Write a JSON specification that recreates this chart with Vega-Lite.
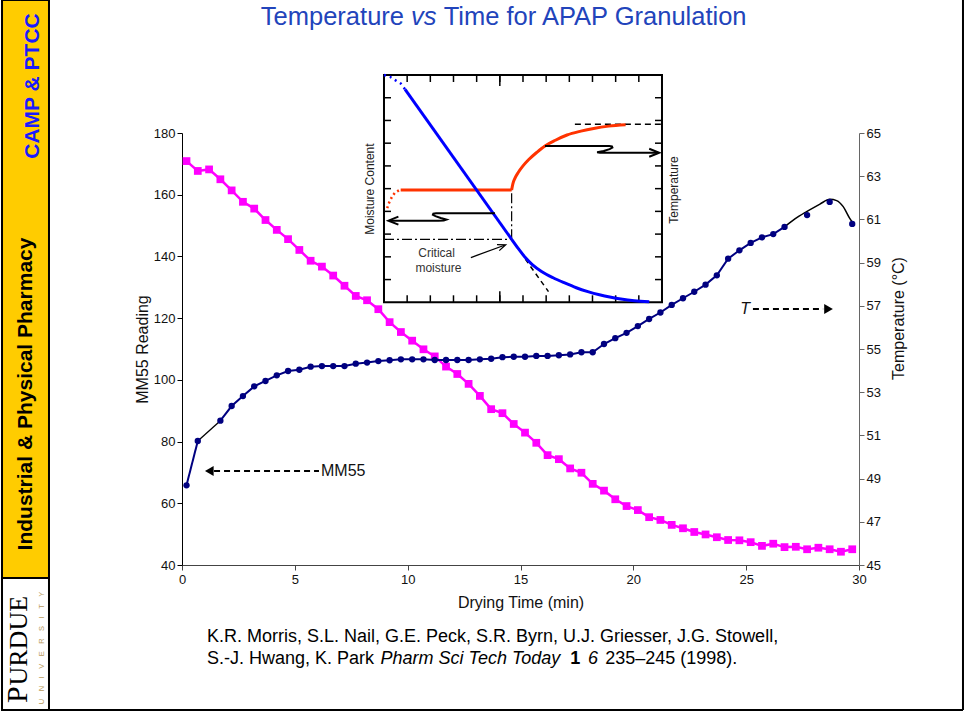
{
"$schema": "https://vega.github.io/schema/vega-lite/v6.json",
"width": 677,
"height": 432,
"autosize": {"type": "none"},
"padding": {"left": 182, "top": 133, "right": 106, "bottom": 154},
"background": "white",
"config": {
  "view": {"stroke": null},
  "font": "Liberation Sans",
  "axis": {"grid": false, "labelFont": "Liberation Sans", "titleFont": "Liberation Sans", "labelFontSize": 13, "titleFontSize": 16, "titleFontWeight": "normal", "labelColor": "#111111", "titleColor": "#111111", "tickColor": "#222222", "domainColor": "#222222", "tickSize": 5, "labelPadding": 2},
  "text": {"font": "Liberation Sans"}
},
"datasets": {
  "drying": [
    {"t":0.2,"mm55":170.9,"temp":48.69},{"t":0.7,"mm55":167.7,"temp":50.74},{"t":1.2,"mm55":168.2,"temp":null},
    {"t":1.7,"mm55":165.0,"temp":51.68},{"t":2.2,"mm55":161.4,"temp":52.36},{"t":2.7,"mm55":157.7,"temp":52.82},
    {"t":3.2,"mm55":155.5,"temp":53.27},{"t":3.7,"mm55":151.8,"temp":53.52},{"t":4.2,"mm55":148.6,"temp":53.78},
    {"t":4.7,"mm55":145.6,"temp":53.98},{"t":5.2,"mm55":142.1,"temp":54.04},{"t":5.7,"mm55":138.6,"temp":54.18},
    {"t":6.2,"mm55":136.7,"temp":54.21},{"t":6.7,"mm55":133.8,"temp":54.21},{"t":7.2,"mm55":130.5,"temp":54.21},
    {"t":7.7,"mm55":127.2,"temp":54.32},{"t":8.2,"mm55":125.8,"temp":54.37},{"t":8.7,"mm55":122.9,"temp":54.44},
    {"t":9.2,"mm55":118.7,"temp":54.48},{"t":9.7,"mm55":115.5,"temp":54.52},{"t":10.2,"mm55":112.7,"temp":54.52},
    {"t":10.7,"mm55":109.9,"temp":54.52},{"t":11.2,"mm55":107.6,"temp":54.49},{"t":11.7,"mm55":104.3,"temp":54.49},
    {"t":12.2,"mm55":101.9,"temp":54.49},{"t":12.7,"mm55":98.7,"temp":54.49},{"t":13.2,"mm55":94.8,"temp":54.52},
    {"t":13.7,"mm55":90.5,"temp":54.55},{"t":14.2,"mm55":89.2,"temp":54.62},{"t":14.7,"mm55":85.7,"temp":54.64},
    {"t":15.2,"mm55":82.9,"temp":54.64},{"t":15.7,"mm55":79.6,"temp":54.68},{"t":16.2,"mm55":75.6,"temp":54.68},
    {"t":16.7,"mm55":74.3,"temp":54.71},{"t":17.2,"mm55":71.3,"temp":54.75},{"t":17.7,"mm55":69.9,"temp":54.85},
    {"t":18.2,"mm55":66.3,"temp":54.85},{"t":18.7,"mm55":64.1,"temp":55.23},{"t":19.2,"mm55":61.3,"temp":55.5},
    {"t":19.7,"mm55":59.1,"temp":55.75},{"t":20.2,"mm55":57.8,"temp":56.06},{"t":20.7,"mm55":55.5,"temp":56.39},
    {"t":21.2,"mm55":54.6,"temp":56.69},{"t":21.7,"mm55":53.0,"temp":57.04},{"t":22.2,"mm55":51.9,"temp":57.35},
    {"t":22.7,"mm55":50.7,"temp":57.65},{"t":23.2,"mm55":49.9,"temp":57.98},{"t":23.7,"mm55":49.0,"temp":58.41},
    {"t":24.2,"mm55":48.1,"temp":59.18},{"t":24.7,"mm55":48.0,"temp":59.57},{"t":25.2,"mm55":47.4,"temp":59.91},
    {"t":25.7,"mm55":46.2,"temp":60.17},{"t":26.2,"mm55":46.9,"temp":60.32},{"t":26.7,"mm55":45.8,"temp":60.65},
    {"t":27.2,"mm55":45.9,"temp":null},{"t":27.7,"mm55":45.1,"temp":61.2},{"t":28.2,"mm55":45.6,"temp":null},
    {"t":28.7,"mm55":45.1,"temp":61.81},{"t":29.2,"mm55":44.3,"temp":null},{"t":29.7,"mm55":45.1,"temp":60.79}
  ],
  "fit": [
    {"t":26.7,"temp":60.65},{"t":27.16,"temp":61.02},{"t":27.68,"temp":61.36},{"t":28.27,"temp":61.71},
    {"t":28.71,"temp":61.93},{"t":29.01,"temp":61.87},{"t":29.3,"temp":61.59},{"t":29.59,"temp":61.05},{"t":29.74,"temp":60.82}
  ],
  "tu": [{"u":1},{"u":2},{"u":3},{"u":4},{"u":5},{"u":6},{"u":7},{"u":8},{"u":9},{"u":10},{"u":11}],
  "tv": [{"v":1},{"v":2},{"v":3},{"v":4},{"v":5},{"v":6},{"v":7},{"v":8},{"v":9}]
},
"resolve": {"scale": {"x": "independent", "y": "independent"}},
"layer": [
  {
    "data": {"values": [{}]},
    "layer": [
      {"data": {"name": "drying"},
       "mark": {"type": "line", "color": "#FF00FF", "strokeWidth": 2.5},
       "encoding": {
         "x": {"field": "t", "type": "quantitative", "scale": {"domain": [0, 30], "nice": false, "zero": false},
               "axis": {"title": "Drying Time (min)", "values": [0, 5, 10, 15, 20, 25, 30], "labelFlush": false, "titlePadding": 8, "labelPadding": 3, "domainColor": "#444444", "tickColor": "#444444"}},
         "y": {"field": "mm55", "type": "quantitative", "scale": {"domain": [40, 180], "nice": false, "zero": false},
               "axis": {"title": "MM55 Reading", "values": [40, 60, 80, 100, 120, 140, 160, 180], "labelFlush": false, "titlePadding": 3, "domainColor": "#000000", "tickColor": "#000000"}}
       }},
      {"mark": {"type": "rect", "fill": "#FFCC00", "stroke": "#000000", "strokeWidth": 2},
       "encoding": {"x": {"datum": -7.976}, "x2": {"datum": -5.894}, "y": {"datum": 223.1}, "y2": {"datum": 35.79}}},
      {"mark": {"type": "rect", "fill": "#FFFFFF", "stroke": "#000000", "strokeWidth": 2},
       "encoding": {"x": {"datum": -7.976}, "x2": {"datum": -5.894}, "y": {"datum": 35.79}, "y2": {"datum": -6.99}}},
      {"mark": {"type": "rule", "color": "#000000", "strokeWidth": 2},
       "encoding": {"x": {"datum": 34.608}, "y": {"datum": 223.1}, "y2": {"datum": -6.99}}},
      {"mark": {"type": "rule", "color": "#000000", "strokeWidth": 2},
       "encoding": {"x": {"datum": -7.976}, "x2": {"datum": 34.608}, "y": {"datum": -6.99}}},
      {"mark": {"type": "text", "text": "CAMP & PTCC", "angle": 270, "fontSize": 21, "fontWeight": "bold", "color": "#1a1aff", "align": "center", "baseline": "middle"},
       "encoding": {"x": {"datum": -6.603}, "y": {"datum": 195.23}}},
      {"mark": {"type": "text", "text": "Industrial & Physical Pharmacy", "angle": 270, "fontSize": 21, "fontWeight": "bold", "color": "#000000", "align": "center", "baseline": "middle"},
       "encoding": {"x": {"datum": -6.913}, "y": {"datum": 95.42}}},
      {"mark": {"type": "text", "text": "P", "angle": 270, "fontSize": 30, "font": "Liberation Serif", "color": "#000000", "align": "left", "baseline": "alphabetic"},
       "encoding": {"x": {"datum": -6.868}, "y": {"datum": -4.72}}},
      {"mark": {"type": "text", "text": "URDUE", "angle": 270, "fontSize": 26, "font": "Liberation Serif", "color": "#000000", "align": "left", "baseline": "alphabetic"},
       "encoding": {"x": {"datum": -6.868}, "y": {"datum": 0.95}}},
      {"mark": {"type": "text", "text": "U\u2003N\u2003I\u2003V\u2003E\u2003R\u2003S\u2003I\u2003T\u2003Y", "angle": 270, "fontSize": 7.5, "color": "#B89A5C", "align": "center", "baseline": "middle"},
       "encoding": {"x": {"datum": -6.182}, "y": {"datum": 13.1}}},
      {"mark": {"type": "text", "text": "Temperature", "fontSize": 25.5, "color": "#2244BB", "align": "right", "baseline": "alphabetic"},
       "encoding": {"x": {"datum": 9.837}, "y": {"datum": 214.84}}},
      {"mark": {"type": "text", "text": "vs", "fontSize": 25.5, "fontStyle": "italic", "color": "#2244BB", "align": "center", "baseline": "alphabetic"},
       "encoding": {"x": {"datum": 10.715}, "y": {"datum": 214.84}}},
      {"mark": {"type": "text", "text": "Time for APAP Granulation", "fontSize": 25.5, "color": "#2244BB", "align": "left", "baseline": "alphabetic"},
       "encoding": {"x": {"datum": 11.597}, "y": {"datum": 214.84}}},
      {"mark": {"type": "text", "text": "K.R. Morris, S.L. Nail, G.E. Peck, S.R. Byrn, U.J. Griesser, J.G. Stowell,", "fontSize": 18, "color": "#000000", "align": "left", "baseline": "alphabetic"},
       "encoding": {"x": {"datum": 1.108}, "y": {"datum": 15.05}}},
      {"mark": {"type": "text", "text": "S.-J. Hwang, K. Park", "fontSize": 18, "color": "#000000", "align": "left", "baseline": "alphabetic"},
       "encoding": {"x": {"datum": 1.108}, "y": {"datum": 7.92}}},
      {"mark": {"type": "text", "text": "Pharm Sci Tech Today", "fontSize": 18, "fontStyle": "italic", "color": "#000000", "align": "left", "baseline": "alphabetic"},
       "encoding": {"x": {"datum": 8.8}, "y": {"datum": 7.92}}},
      {"mark": {"type": "text", "text": "1", "fontSize": 18, "fontWeight": "bold", "color": "#000000", "align": "left", "baseline": "alphabetic"},
       "encoding": {"x": {"datum": 17.2}, "y": {"datum": 7.92}}},
      {"mark": {"type": "text", "text": "6", "fontSize": 18, "fontStyle": "italic", "color": "#000000", "align": "left", "baseline": "alphabetic"},
       "encoding": {"x": {"datum": 17.99}, "y": {"datum": 7.92}}},
      {"mark": {"type": "text", "text": "235–245 (1998).", "fontSize": 18, "color": "#000000", "align": "left", "baseline": "alphabetic"},
       "encoding": {"x": {"datum": 18.75}, "y": {"datum": 7.92}}},
      {"data": {"name": "drying"},
       "mark": {"type": "point", "shape": "square", "filled": true, "color": "#FF00FF", "size": 60, "opacity": 1},
       "encoding": {"x": {"field": "t", "type": "quantitative"}, "y": {"field": "mm55", "type": "quantitative"}}},
      {"mark": {"type": "rule", "color": "#000000", "strokeWidth": 2, "strokeDash": [6, 4]},
       "encoding": {"x": {"datum": 1.42}, "x2": {"datum": 6.07}, "y": {"datum": 70.46}}},
      {"mark": {"type": "point", "shape": "triangle-left", "filled": true, "color": "#000000", "size": 100, "opacity": 1},
       "encoding": {"x": {"datum": 1.21}, "y": {"datum": 70.46}}},
      {"mark": {"type": "text", "text": "MM55", "fontSize": 16, "color": "#111111", "align": "left", "baseline": "middle"},
       "encoding": {"x": {"datum": 6.16}, "y": {"datum": 70.46}}}
    ]
  },
  {
    "data": {"values": [{}]},
    "layer": [
      {"data": {"name": "drying"}, "transform": [{"filter": "datum.t <= 0.7"}],
       "mark": {"type": "line", "color": "#000080", "strokeWidth": 2},
       "encoding": {
         "x": {"field": "t", "type": "quantitative", "scale": {"domain": [0, 30], "nice": false, "zero": false}, "axis": null},
         "y": {"field": "temp", "type": "quantitative", "scale": {"domain": [45, 65], "nice": false, "zero": false},
               "axis": {"orient": "right", "title": "Temperature (°C)", "values": [45, 47, 49, 51, 53, 55, 57, 59, 61, 63, 65], "labelFlush": false, "titleAngle": 270, "titleBaseline": "top", "titleAlign": "center", "titleX": 31, "titleY": 185, "domainColor": "#666666", "tickColor": "#666666"}}
       }},
      {"data": {"name": "drying"}, "transform": [{"filter": "datum.t >= 0.7 && datum.t <= 1.7 && isValid(datum.temp)"}],
       "mark": {"type": "line", "color": "#000000", "strokeWidth": 1.3},
       "encoding": {"x": {"field": "t", "type": "quantitative", "axis": null}, "y": {"field": "temp", "type": "quantitative"}}},
      {"data": {"name": "drying"}, "transform": [{"filter": "datum.t >= 1.7 && datum.t <= 26.7"}],
       "mark": {"type": "line", "color": "#000080", "strokeWidth": 2},
       "encoding": {"x": {"field": "t", "type": "quantitative", "axis": null}, "y": {"field": "temp", "type": "quantitative"}}},
      {"data": {"name": "fit"},
       "mark": {"type": "line", "color": "#000000", "strokeWidth": 1.5, "interpolate": "monotone"},
       "encoding": {"x": {"field": "t", "type": "quantitative", "axis": null}, "y": {"field": "temp", "type": "quantitative"}}},
      {"data": {"name": "drying"}, "transform": [{"filter": "isValid(datum.temp)"}],
       "mark": {"type": "point", "shape": "circle", "filled": true, "color": "#000080", "size": 40, "opacity": 1},
       "encoding": {"x": {"field": "t", "type": "quantitative", "axis": null}, "y": {"field": "temp", "type": "quantitative"}}},
      {"mark": {"type": "text", "text": "T", "fontSize": 16, "fontStyle": "italic", "color": "#111111", "align": "center", "baseline": "middle"},
       "encoding": {"x": {"datum": 24.95, "axis": null}, "y": {"datum": 56.85}}},
      {"mark": {"type": "rule", "color": "#000000", "strokeWidth": 2, "strokeDash": [6, 4]},
       "encoding": {"x": {"datum": 25.3, "axis": null}, "x2": {"datum": 28.41}, "y": {"datum": 56.85}}},
      {"mark": {"type": "point", "shape": "triangle-right", "filled": true, "color": "#000000", "size": 100, "opacity": 1},
       "encoding": {"x": {"datum": 28.65, "axis": null}, "y": {"datum": 56.85}}}
    ]
  },
  {
    "data": {"values": [{}]},
    "layer": [
      {"mark": {"type": "rect", "fill": "#FFFFFF", "stroke": "#000000", "strokeWidth": 2},
       "encoding": {
         "x": {"datum": 0, "type": "quantitative", "scale": {"domain": [-8.719, 20.504], "nice": false, "zero": false}, "axis": null},
         "x2": {"datum": 12},
         "y": {"datum": 0, "type": "quantitative", "scale": {"domain": [-11.557, 7.448], "nice": false, "zero": false}, "axis": null},
         "y2": {"datum": 10}
       }},
      {"data": {"name": "tu"}, "mark": {"type": "tick", "orient": "vertical", "size": 7, "thickness": 1.5, "color": "#000000", "yOffset": -3.5, "opacity": 1},
       "encoding": {"x": {"field": "u", "type": "quantitative", "axis": null}, "y": {"datum": 0, "axis": null}}},
      {"data": {"name": "tu"}, "mark": {"type": "tick", "orient": "vertical", "size": 7, "thickness": 1.5, "color": "#000000", "yOffset": 3.5, "opacity": 1},
       "encoding": {"x": {"field": "u", "type": "quantitative", "axis": null}, "y": {"datum": 10, "axis": null}}},
      {"data": {"name": "tv"}, "mark": {"type": "tick", "orient": "horizontal", "size": 7, "thickness": 1.5, "color": "#000000", "xOffset": 3.5, "opacity": 1},
       "encoding": {"y": {"field": "v", "type": "quantitative", "axis": null}, "x": {"datum": 0, "axis": null}}},
      {"data": {"name": "tv"}, "mark": {"type": "tick", "orient": "horizontal", "size": 7, "thickness": 1.5, "color": "#000000", "xOffset": -3.5, "opacity": 1},
       "encoding": {"y": {"field": "v", "type": "quantitative", "axis": null}, "x": {"datum": 12, "axis": null}}},
      {"mark": {"type": "tick", "orient": "vertical", "size": 11, "thickness": 1.5, "color": "#000000", "yOffset": -5.5, "opacity": 1},
       "encoding": {"x": {"datum": 5, "axis": null}, "y": {"datum": 0, "axis": null}}},
      {"mark": {"type": "tick", "orient": "vertical", "size": 11, "thickness": 1.5, "color": "#000000", "yOffset": 5.5, "opacity": 1},
       "encoding": {"x": {"datum": 5, "axis": null}, "y": {"datum": 10, "axis": null}}},
      {"mark": {"type": "rule", "color": "#000000", "strokeWidth": 1.2, "strokeDash": [10, 3, 2, 3]},
       "encoding": {"x": {"datum": 5.51, "axis": null}, "y": {"datum": 2.77, "axis": null}, "y2": {"datum": 4.94}}},
      {"mark": {"type": "rule", "color": "#000000", "strokeWidth": 1.2, "strokeDash": [10, 3, 2, 3]},
       "encoding": {"x": {"datum": 0, "axis": null}, "x2": {"datum": 5.51}, "y": {"datum": 2.77, "axis": null}}},
      {"mark": {"type": "rule", "color": "#000000", "strokeWidth": 1.5, "strokeDash": [5, 4]},
       "encoding": {"x": {"datum": 6.1, "axis": null}, "x2": {"datum": 7.1}, "y": {"datum": 1.9, "axis": null}, "y2": {"datum": 0.47}}},
      {"mark": {"type": "rule", "color": "#000000", "strokeWidth": 1.5, "strokeDash": [6, 4]},
       "encoding": {"x": {"datum": 8.24, "axis": null}, "x2": {"datum": 11.95}, "y": {"datum": 7.83, "axis": null}}},
      {"data": {"values": [{"u":0.14,"v":4.14},{"u":0.19,"v":4.31},{"u":0.26,"v":4.47},{"u":0.35,"v":4.65},{"u":0.47,"v":4.82},{"u":0.66,"v":4.93}]},
       "mark": {"type": "line", "color": "#FF3300", "strokeWidth": 2.5, "strokeDash": [2, 3]},
       "encoding": {"x": {"field": "u", "type": "quantitative", "axis": null}, "y": {"field": "v", "type": "quantitative", "axis": null}}},
      {"data": {"values": [{"u":0.72,"v":4.94},{"u":5.51,"v":4.94}]},
       "mark": {"type": "line", "color": "#FF3300", "strokeWidth": 3},
       "encoding": {"x": {"field": "u", "type": "quantitative", "axis": null}, "y": {"field": "v", "type": "quantitative", "axis": null}}},
      {"data": {"values": [{"u":5.51,"v":4.94},{"u":5.56,"v":5.2},{"u":5.65,"v":5.45},{"u":5.8,"v":5.72},{"u":6.0,"v":6.0},{"u":6.25,"v":6.28},{"u":6.6,"v":6.6},{"u":6.95,"v":6.88},{"u":7.4,"v":7.13},{"u":7.9,"v":7.36},{"u":8.5,"v":7.53},{"u":9.05,"v":7.65},{"u":9.7,"v":7.75},{"u":10.43,"v":7.81}]},
       "mark": {"type": "line", "color": "#FF3300", "strokeWidth": 3, "interpolate": "monotone"},
       "encoding": {"x": {"field": "u", "type": "quantitative", "axis": null}, "y": {"field": "v", "type": "quantitative", "axis": null}}},
      {"data": {"values": [{"u":0.0,"v":10.0},{"u":0.26,"v":9.92},{"u":0.52,"v":9.75},{"u":0.72,"v":9.63},{"u":0.91,"v":9.37}]},
       "mark": {"type": "line", "color": "#0000FF", "strokeWidth": 2.5, "strokeDash": [2, 4]},
       "encoding": {"x": {"field": "u", "type": "quantitative", "axis": null}, "y": {"field": "v", "type": "quantitative", "axis": null}}},
      {"data": {"values": [{"u":0.91,"v":9.37},{"u":5.51,"v":2.77}]},
       "mark": {"type": "line", "color": "#0000FF", "strokeWidth": 3},
       "encoding": {"x": {"field": "u", "type": "quantitative", "axis": null}, "y": {"field": "v", "type": "quantitative", "axis": null}}},
      {"data": {"values": [{"u":5.51,"v":2.77},{"u":5.8,"v":2.36},{"u":6.1,"v":1.97},{"u":6.4,"v":1.66},{"u":6.8,"v":1.36},{"u":7.3,"v":1.08},{"u":7.8,"v":0.85},{"u":8.3,"v":0.64},{"u":8.8,"v":0.47},{"u":9.3,"v":0.33},{"u":9.8,"v":0.22},{"u":10.3,"v":0.13},{"u":10.8,"v":0.07},{"u":11.45,"v":0.02}]},
       "mark": {"type": "line", "color": "#0000FF", "strokeWidth": 3, "interpolate": "monotone"},
       "encoding": {"x": {"field": "u", "type": "quantitative", "axis": null}, "y": {"field": "v", "type": "quantitative", "axis": null}}},
      {"data": {"values": [{"i":0,"u":4.79,"v":3.92},{"i":1,"u":2.25,"v":3.92},{"i":2,"u":2.13,"v":3.9},{"i":3,"u":2.11,"v":3.85},{"i":4,"u":2.22,"v":3.79},{"i":5,"u":2.45,"v":3.71},{"i":6,"u":2.7,"v":3.64},{"i":7,"u":2.58,"v":3.595},{"i":8,"u":2.35,"v":3.59},{"i":9,"u":0.25,"v":3.59}]},
       "mark": {"type": "line", "color": "#000000", "strokeWidth": 2},
       "encoding": {"x": {"field": "u", "type": "quantitative", "axis": null}, "y": {"field": "v", "type": "quantitative", "axis": null}, "order": {"field": "i"}}},
      {"mark": {"type": "point", "shape": "M1,-0.8L-1,0L1,0.8", "filled": false, "stroke": "#000000", "strokeWidth": 2, "size": 100, "opacity": 1},
       "encoding": {"x": {"datum": 0.406, "axis": null}, "y": {"datum": 3.59, "axis": null}}},
      {"data": {"values": [{"i":0,"u":6.95,"v":6.88},{"i":1,"u":9.72,"v":6.88},{"i":2,"u":9.84,"v":6.86},{"i":3,"u":9.86,"v":6.81},{"i":4,"u":9.74,"v":6.74},{"i":5,"u":9.48,"v":6.66},{"i":6,"u":9.2,"v":6.605},{"i":7,"u":9.32,"v":6.58},{"i":8,"u":9.55,"v":6.58},{"i":9,"u":11.8,"v":6.58}]},
       "mark": {"type": "line", "color": "#000000", "strokeWidth": 2},
       "encoding": {"x": {"field": "u", "type": "quantitative", "axis": null}, "y": {"field": "v", "type": "quantitative", "axis": null}, "order": {"field": "i"}}},
      {"mark": {"type": "point", "shape": "M-1,-0.8L1,0L-1,0.8", "filled": false, "stroke": "#000000", "strokeWidth": 2, "size": 100, "opacity": 1},
       "encoding": {"x": {"datum": 11.664, "axis": null}, "y": {"datum": 6.58, "axis": null}}},
      {"mark": {"type": "rule", "color": "#000000", "strokeWidth": 1.3},
       "encoding": {"x": {"datum": 3.75, "axis": null}, "x2": {"datum": 5.2}, "y": {"datum": 1.97, "axis": null}, "y2": {"datum": 2.51}}},
      {"mark": {"type": "point", "shape": "M-1,-0.8L1,0L-1,0.8", "filled": false, "stroke": "#000000", "strokeWidth": 1.3, "size": 64, "opacity": 1, "angle": -20.7},
       "encoding": {"x": {"datum": 5.089, "axis": null}, "y": {"datum": 2.468, "axis": null}}},
      {"mark": {"type": "text", "text": "Critical", "fontSize": 12, "color": "#333333", "align": "center", "baseline": "middle"},
       "encoding": {"x": {"datum": 2.27, "axis": null}, "y": {"datum": 2.16, "axis": null}}},
      {"mark": {"type": "text", "text": "moisture", "fontSize": 12, "color": "#333333", "align": "center", "baseline": "middle"},
       "encoding": {"x": {"datum": 2.35, "axis": null}, "y": {"datum": 1.52, "axis": null}}},
      {"mark": {"type": "text", "text": "Moisture Content", "angle": 270, "fontSize": 12, "color": "#222222", "align": "center", "baseline": "middle"},
       "encoding": {"x": {"datum": -0.6, "axis": null}, "y": {"datum": 4.98, "axis": null}}},
      {"mark": {"type": "text", "text": "Temperature", "angle": 270, "fontSize": 12, "color": "#222222", "align": "center", "baseline": "middle"},
       "encoding": {"x": {"datum": 12.52, "axis": null}, "y": {"datum": 4.94, "axis": null}}}
    ]
  }
]
}
